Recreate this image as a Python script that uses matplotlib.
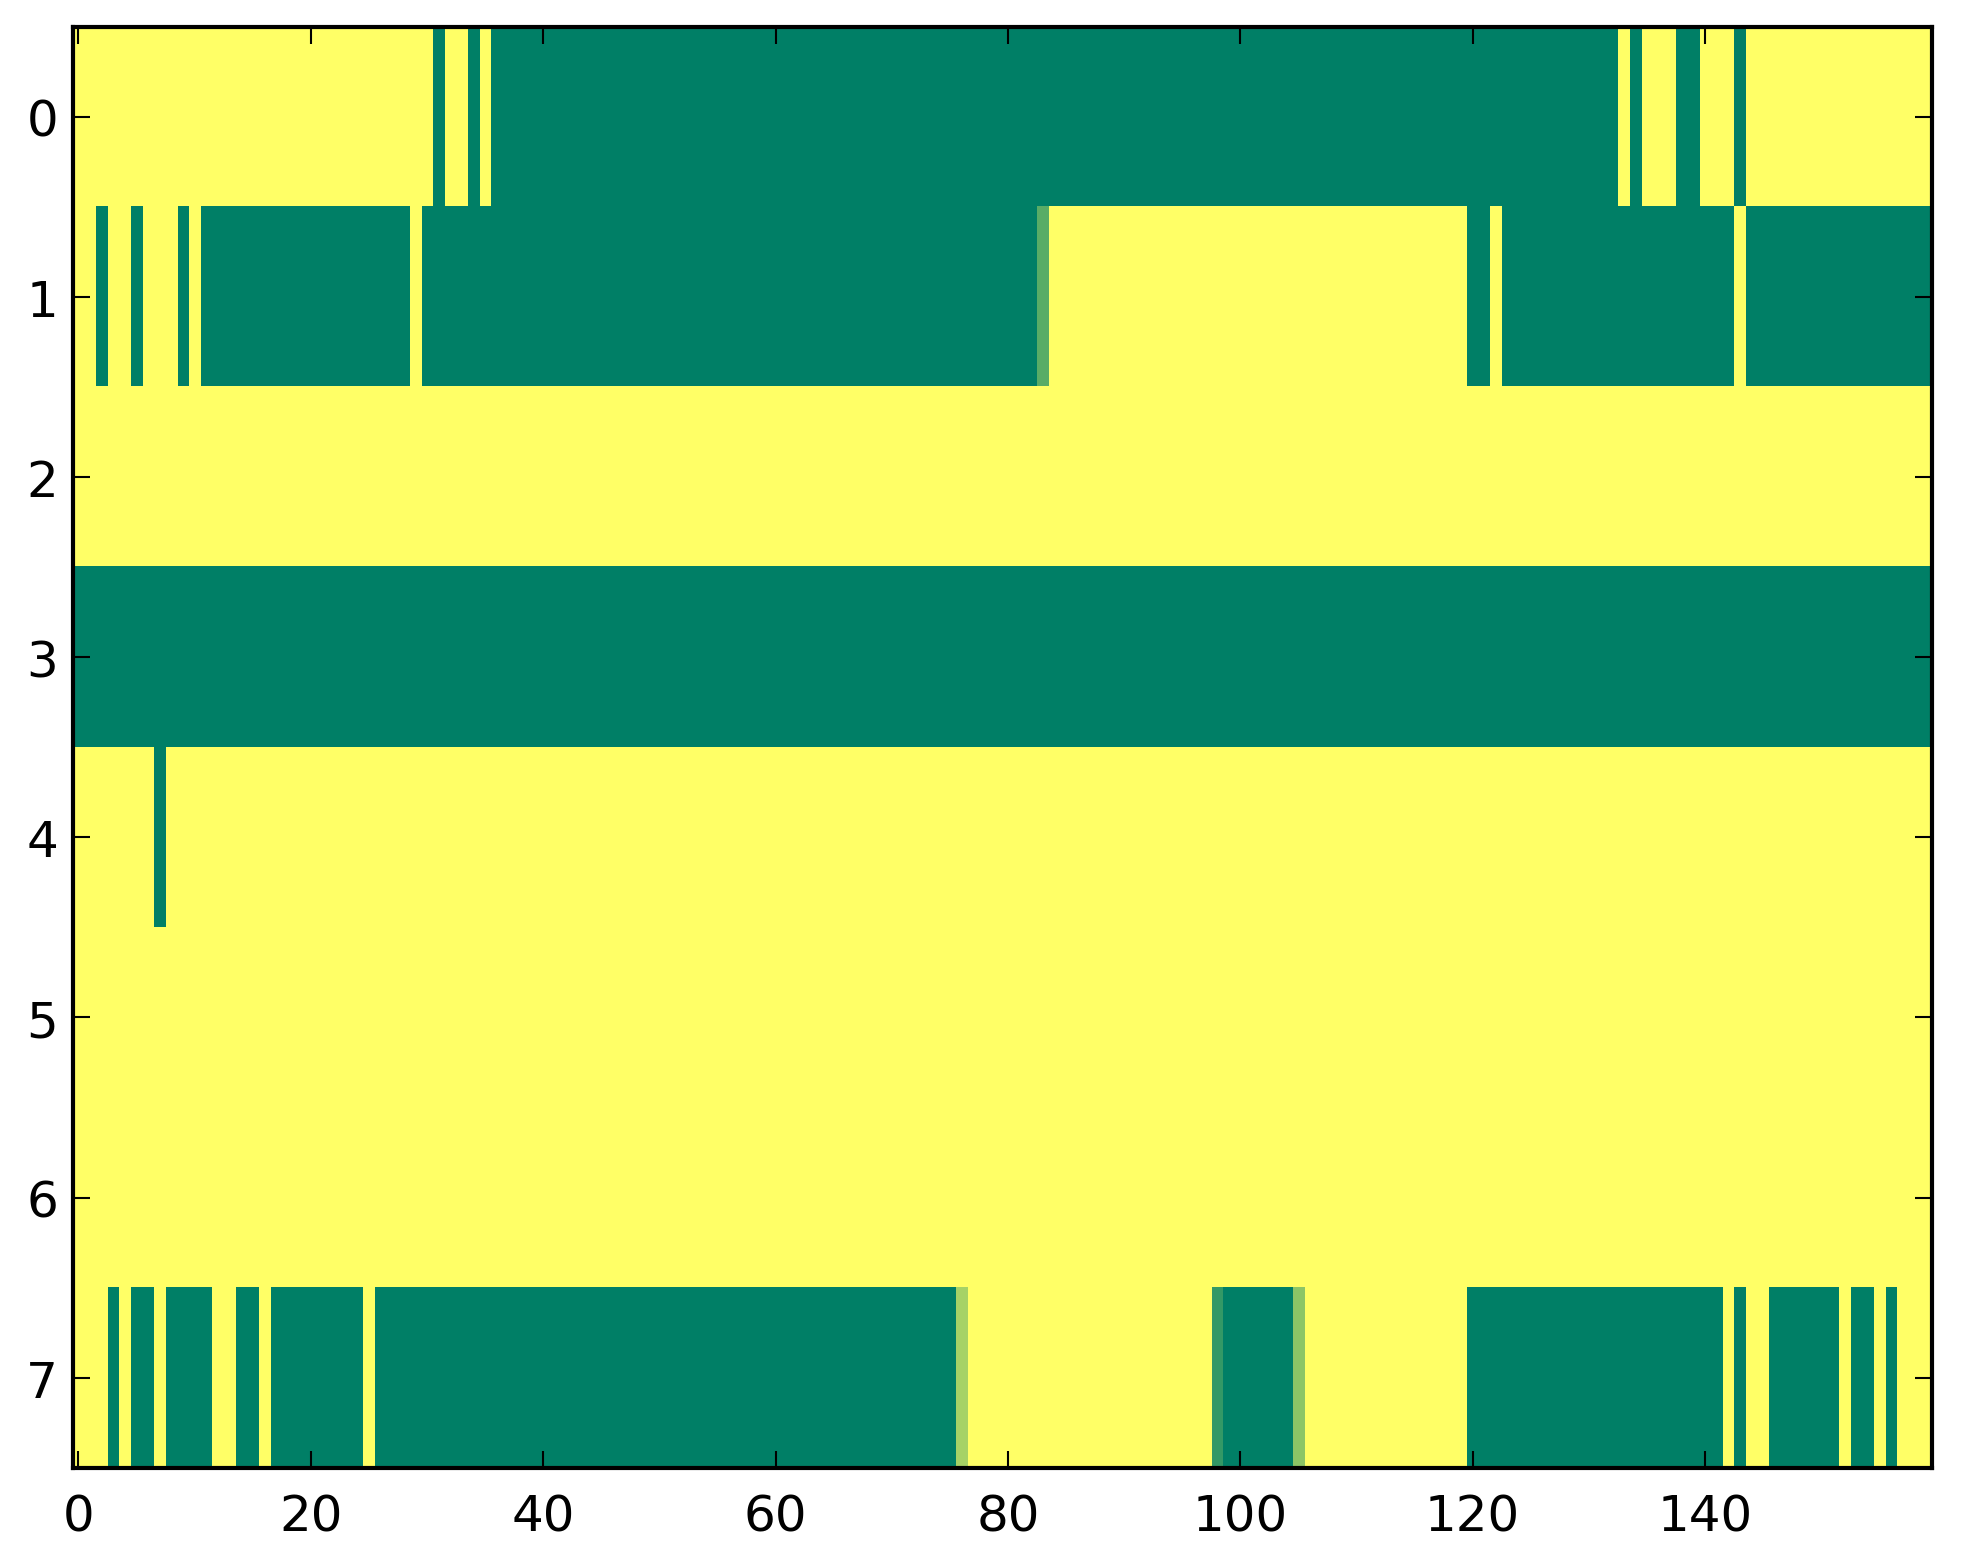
import matplotlib
matplotlib.use('Agg')
import matplotlib.pyplot as plt
import numpy as np

n_rows = 8
n_cols = 160

# green (value 0) column ranges per row, inclusive; everything else is yellow (1)
green_runs = {
    0: [(31, 31), (34, 34), (36, 132), (134, 134), (138, 139), (143, 143)],
    1: [(2, 2), (5, 5), (9, 9), (11, 28), (30, 82), (120, 121), (123, 142), (144, 159)],
    2: [],
    3: [(0, 159)],
    4: [(7, 7)],
    5: [],
    6: [],
    7: [(3, 3), (5, 6), (8, 11), (14, 15), (17, 24), (26, 75), (99, 104),
        (120, 141), (143, 143), (146, 151), (153, 154), (156, 156)],
}

# cells with in-between values (row, col, value)
mixed_cells = [(1, 83, 0.35), (7, 76, 0.65), (7, 98, 0.2), (7, 105, 0.55)]

data = np.ones((n_rows, n_cols))
for r, runs in green_runs.items():
    for a, b in runs:
        data[r, a:b + 1] = 0.0
for r, c, v in mixed_cells:
    data[r, c] = v

fig = plt.figure(figsize=(1963 / 300, 1564 / 300), dpi=300)
ax = fig.add_axes([0.037, 0.0609, 0.947, 0.9215])

ax.imshow(data, cmap='summer', vmin=0, vmax=1, aspect='auto', interpolation='nearest')

ax.set_xticks([0, 20, 40, 60, 80, 100, 120, 140])
ax.set_yticks(range(8))
ax.tick_params(direction='in', top=True, right=True, length=4, width=0.5,
               labelsize=12)
ax.tick_params(axis='x', pad=6)
ax.tick_params(axis='y', pad=3.5)
for s in ax.spines.values():
    s.set_linewidth(1.0)

fig.savefig('out.png', dpi=300, facecolor='white')
